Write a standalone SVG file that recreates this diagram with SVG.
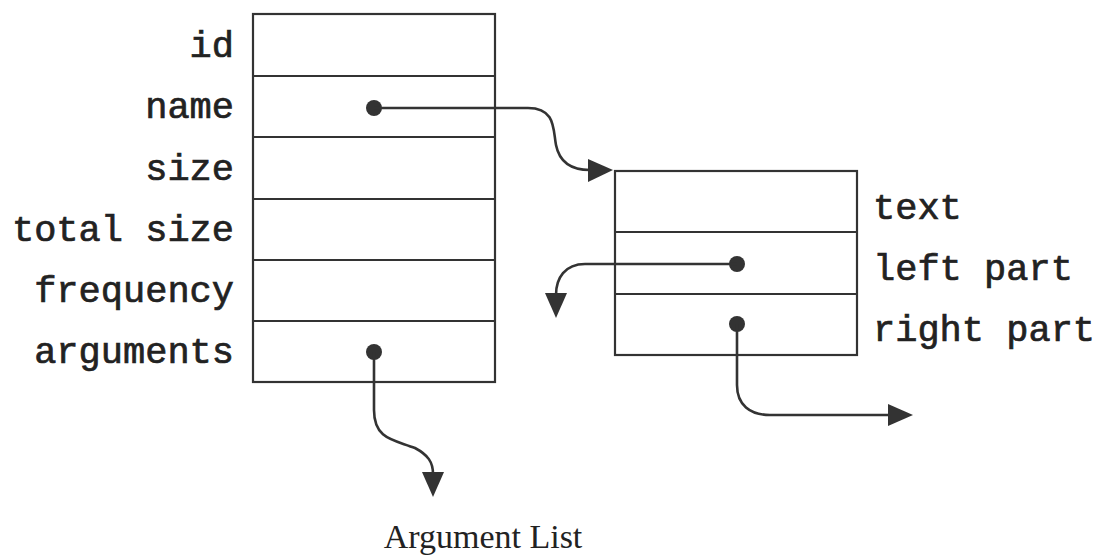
<svg xmlns="http://www.w3.org/2000/svg" width="1099" height="556" viewBox="0 0 1099 556">
<style>
.box{fill:none;stroke:#333;stroke-width:2.2}
.div{stroke:#333;stroke-width:2}
.lbl{font-family:"Liberation Mono",monospace;font-size:37px;fill:#222;stroke:#222;stroke-width:0.7}
.cap{font-family:"Liberation Serif",serif;font-size:34px;fill:#222}
.con{fill:none;stroke:#333;stroke-width:2.6}
.dot{fill:#333}
</style>
<rect width="1099" height="556" fill="#fff"/>
<g id="record">
<rect class="box" x="253" y="14" width="242" height="368"/>
<line class="div" x1="253" y1="76" x2="495" y2="76"/>
<line class="div" x1="253" y1="137" x2="495" y2="137"/>
<line class="div" x1="253" y1="199" x2="495" y2="199"/>
<line class="div" x1="253" y1="260" x2="495" y2="260"/>
<line class="div" x1="253" y1="321" x2="495" y2="321"/>
<g class="lbl" text-anchor="end">
<text x="234" y="57">id</text>
<text x="234" y="118">name</text>
<text x="234" y="180">size</text>
<text x="234" y="241">total size</text>
<text x="234" y="302">frequency</text>
<text x="234" y="363">arguments</text>
</g>
<circle class="dot" cx="374" cy="108" r="8"/>
<circle class="dot" cx="374" cy="352" r="8"/>
</g>
<g id="name-node">
<rect class="box" x="615" y="171" width="242" height="184"/>
<line class="div" x1="615" y1="232" x2="857" y2="232"/>
<line class="div" x1="615" y1="294" x2="857" y2="294"/>
<g class="lbl">
<text x="873" y="219">text</text>
<text x="873" y="280">left part</text>
<text x="873" y="341">right part</text>
</g>
<circle class="dot" cx="737" cy="264" r="8"/>
<circle class="dot" cx="737" cy="324" r="8"/>
</g>
<g id="argument-list">
<text class="cap" x="483" y="548" text-anchor="middle">Argument List</text>
</g>
<g id="connectors">
<path class="con" d="M374,108 L528,108 C556,108 553,130 556,145 C560,165 575,170 590,170"/>
<path d="M613,170 L588,159 L588,182 Z" fill="#333"/>
<path class="con" d="M737,264 L585,264 C565,264 556,278 556,295"/>
<path d="M556,318 L545,293 L567,293 Z" fill="#333"/>
<path class="con" d="M737,324 L737,385 C737,405 750,415 770,415 L890,415"/>
<path d="M913,415 L888,404 L888,426 Z" fill="#333"/>
<path class="con" d="M374,352 L374,410 C374,440 395,440 415,448 C428,455 433,462 433,474"/>
<path d="M433,497 L422,472 L444,472 Z" fill="#333"/>
</g>
</svg>
